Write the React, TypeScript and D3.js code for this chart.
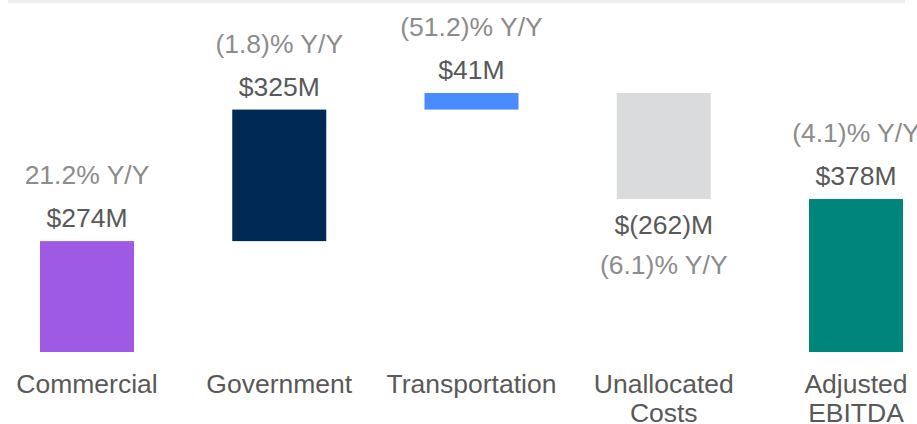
import * as d3 from "d3";
import { useEffect, useRef } from "react";

// waterfall data
const categories = ["Commercial", "Government", "Transportation", "Unallocated Costs", "Adjusted EBITDA"];
const catLines = [["Commercial"], ["Government"], ["Transportation"], ["Unallocated", "Costs"], ["Adjusted", "EBITDA"]];
const values = [274, 325, 41, -262, 378];
const isTotal = [false, false, false, false, true];
const valueLabels = ["$274M", "$325M", "$41M", "$(262)M", "$378M"];
const yoyLabels = ["21.2% Y/Y", "(1.8)% Y/Y", "(51.2)% Y/Y", "(6.1)% Y/Y", "(4.1)% Y/Y"];
const colors = ["#9f5ae5", "#002855", "#4a8cff", "#d9dbdc", "#00857a"];

const App = () => {
  const svgRef = useRef<SVGSVGElement>(null);
  const width = 917;
  const height = 424;

  useEffect(() => {
    const svg = d3.select(svgRef.current);
    svg.selectAll("*").remove();

    // running totals
    let run = 0;
    const bars = values.map((v, i) => {
      let y0, y1;
      if (isTotal[i]) {
        y0 = 0; y1 = v; run = v;
      } else {
        y0 = run; y1 = run + v; run = y1;
      }
      return { cat: categories[i], lo: Math.min(y0, y1), hi: Math.max(y0, y1), v, i };
    });

    const x = d3.scalePoint<string>().domain(categories).range([87, 856]);
    const y = d3.scaleLinear().domain([0, 640]).range([352, 93]);
    const bw = 94;
    const font = "'Liberation Sans', Arial, sans-serif";

    svg.append("rect").attr("x", 8).attr("y", 0).attr("width", 897).attr("height", 3).attr("fill", "#efefef");

    svg.selectAll(".bar").data(bars).join("rect")
      .attr("x", d => x(d.cat)! - bw / 2)
      .attr("y", d => y(d.hi))
      .attr("width", bw)
      .attr("height", d => y(d.lo) - y(d.hi))
      .attr("fill", (d) => colors[d.i]);

    const g = svg.append("g").attr("font-family", font).attr("font-size", 26.5).attr("text-anchor", "middle");

    bars.forEach(d => {
      const cx = x(d.cat)!;
      if (d.v >= 0) {
        g.append("text").attr("x", cx).attr("y", y(d.hi) - 14).attr("fill", "#595959").text(valueLabels[d.i]);
        g.append("text").attr("x", cx).attr("y", y(d.hi) - 57).attr("fill", "#8c8c8c").text(yoyLabels[d.i]);
      } else {
        g.append("text").attr("x", cx).attr("y", y(d.lo) + 35).attr("fill", "#595959").text(valueLabels[d.i]);
        g.append("text").attr("x", cx).attr("y", y(d.lo) + 75).attr("fill", "#8c8c8c").text(yoyLabels[d.i]);
      }
      catLines[d.i].forEach((line, k) => {
        g.append("text").attr("x", cx).attr("y", 393 + k * 29).attr("fill", "#595959").text(line);
      });
    });
  }, []);

  return (
    <svg ref={svgRef} width={width} height={height}
      style={{ position: "absolute", left: 0, top: 0, background: "#fff" }} />
  );
};

export default App;
